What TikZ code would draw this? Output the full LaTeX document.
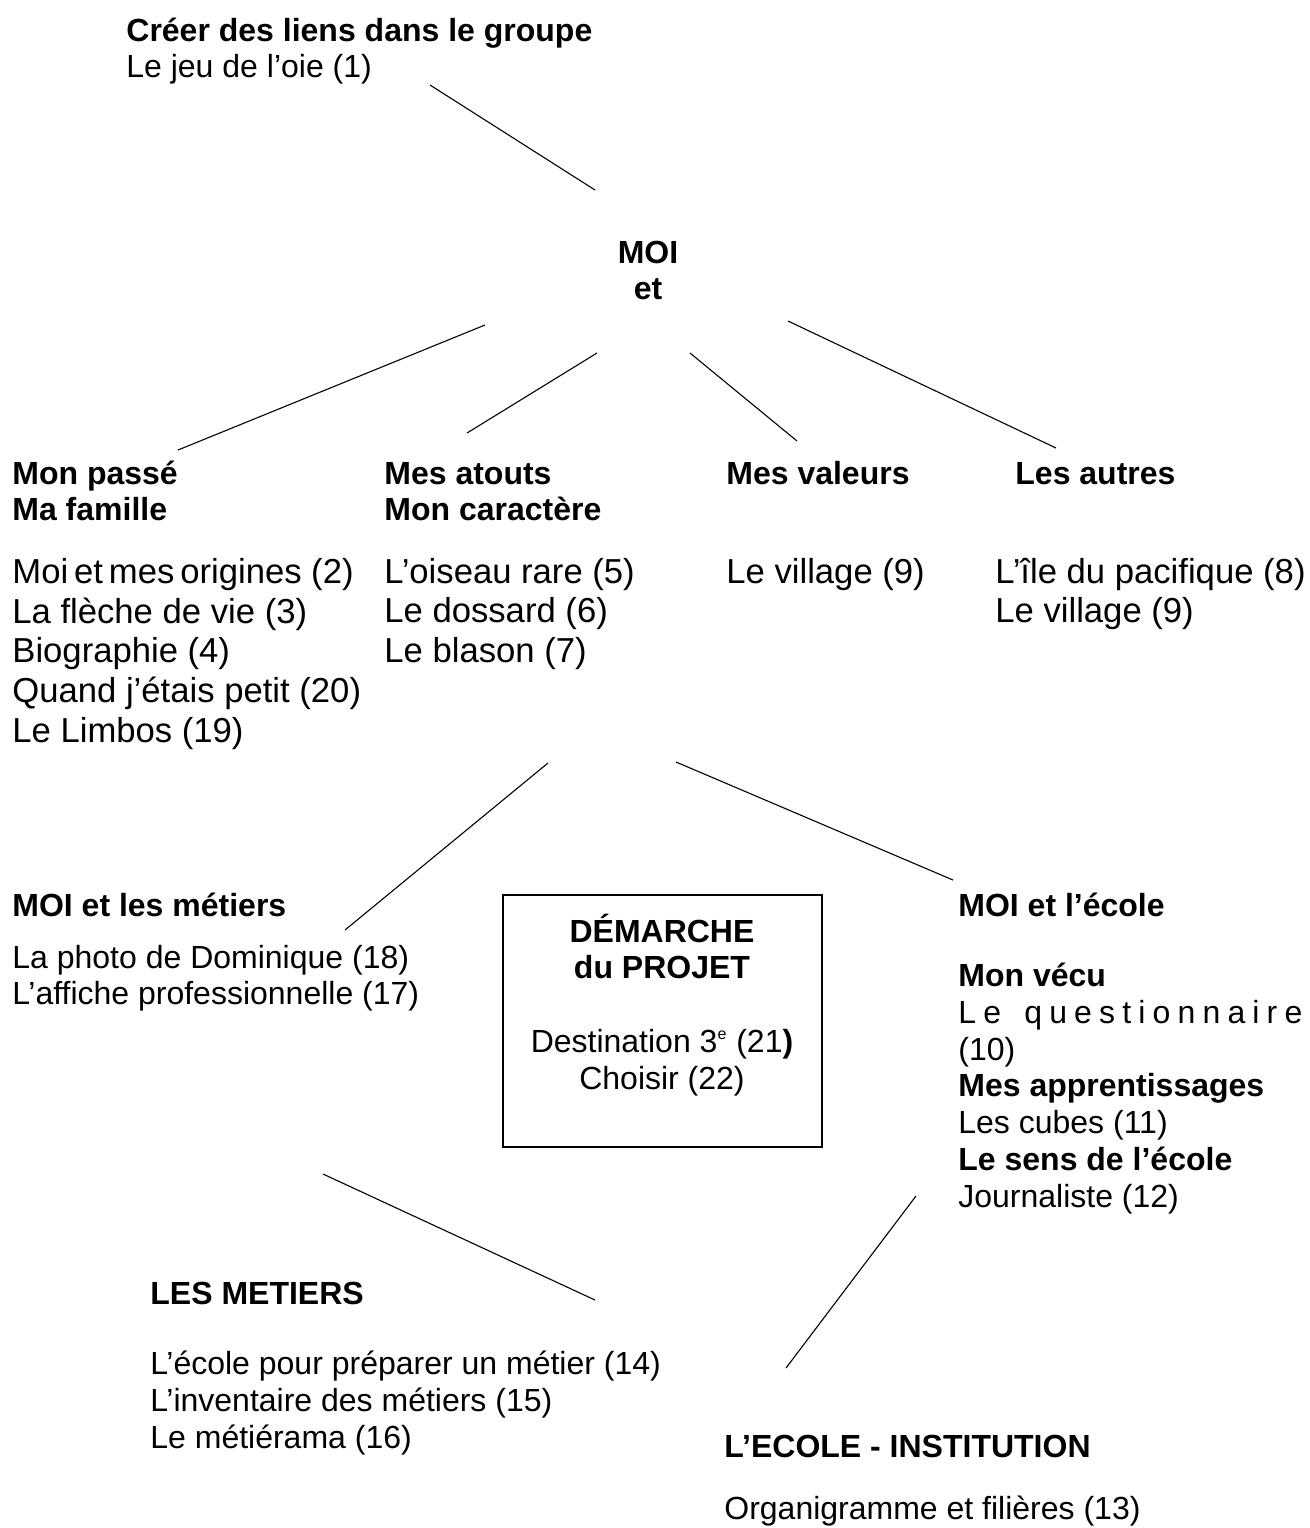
\documentclass[tikz,border=0pt]{standalone}
\usepackage{fontspec}
\setmainfont{Liberation Sans}
\begin{document}
\begin{tikzpicture}[x=0.5pt,y=-0.5pt,
  txt/.style={anchor=base west,inner sep=0pt,align=left,font=\fontsize{16}{18.35}\selectfont},
  bigtxt/.style={txt,font=\fontsize{17.33}{19.93}\selectfont},
  ctxt/.style={anchor=base,inner sep=0pt,align=center,font=\fontsize{16}{18.35}\selectfont},
  link/.style={line width=0.55pt}]
\useasboundingbox (0,0) rectangle (1310,1528);
% texts (anchor = baseline of the last line)
\node[txt] (top) at (126,77.7) {\textbf{Créer des liens dans le groupe}\\Le jeu de l’oie (1)};
\node[ctxt] (moi) at (648,299.7) {\textbf{MOI}\\\textbf{et}};
\node[txt] (passe) at (12,520.7) {\textbf{Mon passé}\\\textbf{Ma famille}};
\node[txt] (atouts) at (384,520.7) {\textbf{Mes atouts}\\\textbf{Mon caractère}};
\node[txt] (valeurs) at (726,484) {\textbf{Mes valeurs}};
\node[txt] (autres) at (1015,484) {\textbf{Les autres}};
\node[bigtxt] (listA) at (12,742.6) {Moi\hspace{0.17em}et\hspace{0.17em}mes\hspace{0.17em}origines (2)\\La flèche de vie (3)\\Biographie (4)\\Quand j’étais petit (20)\\Le Limbos (19)};
\node[bigtxt] (listB) at (384,662.8) {L’oiseau rare (5)\\Le dossard (6)\\Le blason (7)};
\node[bigtxt] (listC) at (726,583) {Le village (9)};
\node[bigtxt] (listD) at (995,622.9) {L’île du pacifique (8)\\Le village (9)};
\node[txt] (metiersH) at (12,916) {\textbf{MOI et les métiers}};
\node[txt] (metiersL) at (12,1004.7) {La photo de Dominique (18)\\L’affiche professionnelle (17)};
\node[txt] (ecoleH) at (958,916) {\textbf{MOI et l’école}};
\node[txt] (ecoleL) at (958,1207) {\textbf{Mon vécu}\\\makebox[172pt][s]{L\hfil e\hfil\ \hfil q\hfil u\hfil e\hfil s\hfil t\hfil i\hfil o\hfil n\hfil n\hfil a\hfil i\hfil r\hfil e}\\(10)\\\textbf{Mes apprentissages}\\Les cubes (11)\\\textbf{Le sens de l’école}\\Journaliste (12)};
\node[draw,line width=1.3pt,inner sep=0pt,minimum width=159.5pt,minimum height=126pt] (box) at (662.5,1021) {};
\node[ctxt] (boxtxt) at (662,1089) {\textbf{DÉMARCHE}\\\textbf{du PROJET}\\[18.35pt]Destination 3\textsuperscript{\footnotesize e} (21\textbf{)}\\Choisir (22)};
\node[txt] (lesmetiersH) at (150,1304) {\textbf{LES METIERS}};
\node[txt] (lesmetiersL) at (150,1448) {L’école pour préparer un métier (14)\\L’inventaire des métiers (15)\\Le métiérama (16)};
\node[txt] (instH) at (724,1457) {\textbf{L’ECOLE - INSTITUTION}};
\node[txt] (instL) at (724,1519) {Organigramme et filières (13)};
% connector ends
\coordinate (a1) at (430,85);   \coordinate (a2) at (595,190);
\coordinate (b1) at (485,325);  \coordinate (b2) at (178,450);
\coordinate (c1) at (597,353);  \coordinate (c2) at (467,433);
\coordinate (d1) at (690,353);  \coordinate (d2) at (797,441);
\coordinate (e1) at (788,321);  \coordinate (e2) at (1056,448);
\coordinate (f1) at (548,763);  \coordinate (f2) at (345,930);
\coordinate (g1) at (676,762);  \coordinate (g2) at (953,880);
\coordinate (h1) at (323,1174); \coordinate (h2) at (595,1300);
\coordinate (i1) at (916,1196); \coordinate (i2) at (786,1368);
\draw[link] (a1) -- (a2);
\draw[link] (b1) -- (b2);
\draw[link] (c1) -- (c2);
\draw[link] (d1) -- (d2);
\draw[link] (e1) -- (e2);
\draw[link] (f1) -- (f2);
\draw[link] (g1) -- (g2);
\draw[link] (h1) -- (h2);
\draw[link] (i1) -- (i2);
\end{tikzpicture}
\end{document}
